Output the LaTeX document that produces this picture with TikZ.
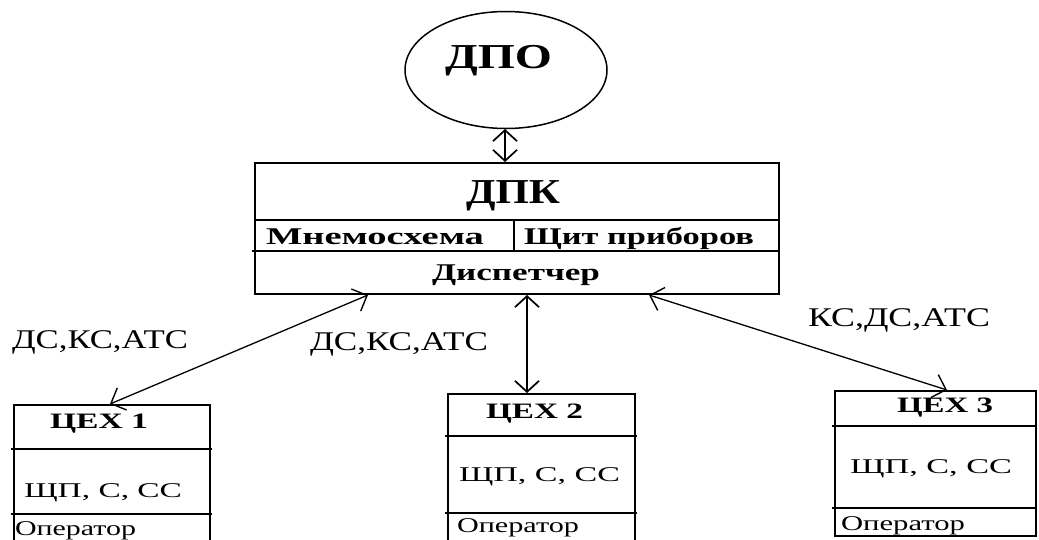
\documentclass[tikz,border=0pt]{standalone}
\usepackage{fontspec}
\setmainfont{Liberation Serif}
\usepackage{graphicx}
\usetikzlibrary{arrows.meta,shapes.geometric}
\newcommand{\sx}[2]{\resizebox{#1}{\height}{#2}}
\tikzset{
  boxline/.style={line width=2.2pt},
  thinline/.style={line width=1.8pt},
  txt/.style={anchor=base west, inner sep=0pt, outer sep=0pt},
  txtc/.style={anchor=base, inner sep=0pt, outer sep=0pt},
  link/.style={line width=1.3pt, {Straight Barb[length=12pt,width=24pt,line width=1.4pt]}-{Straight Barb[length=12pt,width=24pt,line width=1.4pt]}},
  vlink/.style={line width=2pt, {Straight Barb[length=11pt,width=24pt,line width=1.7pt]}-{Straight Barb[length=11pt,width=24pt,line width=1.7pt]}},
  big/.style={font=\fontsize{35}{40}\selectfont\bfseries},
  mid/.style={font=\fontsize{24}{28}\selectfont\bfseries},
  lab/.style={font=\fontsize{27}{31}\selectfont},
  shop/.style={font=\fontsize{22}{26}\selectfont\bfseries},
  small/.style={font=\fontsize{21}{25}\selectfont},
}
\begin{document}
\begin{tikzpicture}[x=1pt,y=-1pt]
\useasboundingbox (0,0) rectangle (1039,539);
\clip (0,0) rectangle (1039,539);
\fill[white] (0,0) rectangle (1039,539);

% DPO circle
\node[draw, ellipse, line width=1.5pt, minimum width=202pt, minimum height=117pt, inner sep=0pt] (dpo) at (506,70) {};
\node[txt, big] (dpot) at (445,68) {\sx{107pt}{ДПО}};

% DPK box
\draw[boxline] (255,163) rectangle (779,294);
\draw[thinline] (255,220) -- (779,220);
\draw[thinline] (252,251) -- (779,251);
\draw[thinline] (514,220) -- (514,251);
\node[txt, big] (dpkt) at (466,203) {\sx{94pt}{ДПК}};
\node[txt, mid] (mnem) at (266,244) {\sx{218pt}{Мнемосхема}};
\node[txt, mid] (shchit) at (524,244) {\sx{230pt}{Щит приборов}};
\node[txtc, mid] (disp) at (516,280) {\sx{168pt}{Диспетчер}};

% shop boxes
\draw[boxline] (14,405) rectangle (210,560);
\draw[thinline] (11,449) -- (212,449);
\draw[thinline] (11,514) -- (212,514);
\node[txt, shop] (c1) at (50,428) {\sx{98pt}{ЦЕХ 1}};
\node[txt, small] (c1a) at (24,497) {\sx{158pt}{ЩП, С, СС}};
\node[txt, small] (c1b) at (15,535) {\sx{121pt}{Оператор}};

\draw[boxline] (448,394) rectangle (635,560);
\draw[thinline] (445,436) -- (637,436);
\draw[thinline] (445,513) -- (637,513);
\node[txt, shop] (c2) at (486,418) {\sx{97pt}{ЦЕХ 2}};
\node[txt, small] (c2a) at (459,481) {\sx{161pt}{ЩП, С, СС}};
\node[txt, small] (c2b) at (457,532) {\sx{122pt}{Оператор}};

\draw[boxline] (835,391) rectangle (1036,536);
\draw[thinline] (832,426) -- (1036,426);
\draw[thinline] (832,508) -- (1036,508);
\node[txt, shop] (c3) at (897,412) {\sx{96pt}{ЦЕХ 3}};
\node[txt, small] (c3a) at (850,473) {\sx{162pt}{ЩП, С, СС}};
\node[txt, small] (c3b) at (841,530) {\sx{124pt}{Оператор}};

% labels
\node[txt, lab] (l1) at (12,348) {\sx{176pt}{ДС,КС,АТС}};
\node[txt, lab] (l2) at (310,350) {\sx{178pt}{ДС,КС,АТС}};
\node[txt, lab] (l3) at (808,326) {\sx{182pt}{КС,ДС,АТС}};

% connector end points
\coordinate (dpob) at (505,129);
\coordinate (dpkt) at (505,162);
\coordinate (dpkb1) at (368,295);
\coordinate (dpkb2) at (527,295);
\coordinate (dpkb3) at (649,295);
\coordinate (c1t) at (110,404);
\coordinate (c2t) at (527,393);
\coordinate (c3t) at (947,390);

\draw[vlink] (dpob) -- (dpkt);
\draw[link] (dpkb1) -- (c1t);
\draw[vlink] (dpkb2) -- (c2t);
\draw[link] (dpkb3) -- (c3t);
\end{tikzpicture}
\end{document}
